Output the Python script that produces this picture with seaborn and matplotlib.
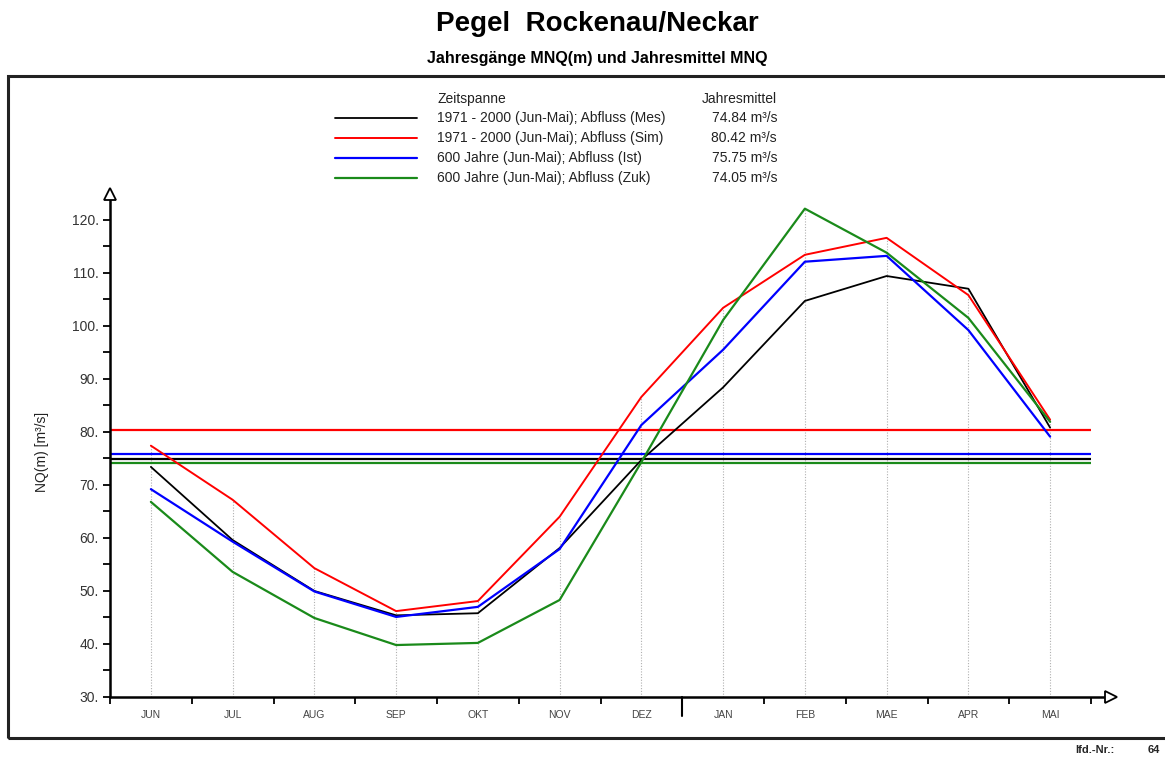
import matplotlib
matplotlib.use("Agg")
import matplotlib.pyplot as plt
from matplotlib.lines import Line2D
from matplotlib.patches import Rectangle
import seaborn as sns
import pandas as pd

# Monthly values (hydrological year Jun-Mai)
months = ["JUN", "JUL", "AUG", "SEP", "OKT", "NOV", "DEZ", "JAN", "FEB", "MAE", "APR", "MAI"]
mes = [73.4, 59.6, 50.0, 45.4, 45.8, 58.1, 74.7, 88.4, 104.7, 109.4, 107.0, 80.8]
sim = [77.4, 67.2, 54.3, 46.2, 48.1, 64.0, 86.6, 103.4, 113.4, 116.6, 105.8, 82.3]
ist = [69.2, 59.3, 49.9, 45.1, 47.0, 57.9, 81.3, 95.5, 112.1, 113.2, 99.2, 79.1]
zuk = [66.8, 53.6, 44.9, 39.8, 40.2, 48.3, 74.3, 101.1, 122.1, 113.8, 101.5, 81.9]

series_labels = ["1971 - 2000 (Jun-Mai); Abfluss (Mes)",
                 "1971 - 2000 (Jun-Mai); Abfluss (Sim)",
                 "600 Jahre (Jun-Mai); Abfluss (Ist)",
                 "600 Jahre (Jun-Mai); Abfluss (Zuk)"]
annual_means = [74.84, 80.42, 75.75, 74.05]
colors = ["#000000", "#ff0000", "#0000ff", "#1a8a1a"]
widths = [1.3, 1.4, 1.6, 1.6]

sns.set_theme(style="white")
plt.rcParams["font.family"] = ["Liberation Sans", "DejaVu Sans"]

W, H = 1165, 758
fig = plt.figure(figsize=(W / 100, H / 100), dpi=100)

def fx(px):
    return px / W

def fy(py):
    return 1 - py / H

ax = fig.add_axes([fx(110), fy(697), fx(1091) - fx(110), fy(188) - fy(697)])

# long table for seaborn
rows = []
for lab, vals in zip(series_labels, [mes, sim, ist, zuk]):
    for i, v in enumerate(vals):
        rows.append({"x": i + 0.5, "y": v, "series": lab})
df = pd.DataFrame(rows)

# dotted month guides from axis up to highest curve
tops = [max(a, b, c, d) for a, b, c, d in zip(mes, sim, ist, zuk)]
ax.vlines([i + 0.5 for i in range(len(months))], 30, tops,
          colors="#b0b0b0", linestyles=(0, (1, 1.5)), linewidth=0.8, zorder=1)

# annual means as horizontal lines
for m, c in zip(annual_means, colors):
    ax.axhline(m, color=c, linewidth=1.6, zorder=2)

for lab, c, lw in zip(series_labels, colors, widths):
    sns.lineplot(data=df[df["series"] == lab], x="x", y="y", color=c,
                 linewidth=lw, ax=ax, legend=False, zorder=3)

ax.set_xlim(0, 12)
ax.set_ylim(30, 126)
for s in ax.spines.values():
    s.set_visible(False)

# axes with arrow heads
ax.plot([0, 12.2], [30, 30], color="black", linewidth=1.8, clip_on=False, zorder=4)
ax.plot([0, 0], [30, 123.8], color="black", linewidth=1.8, clip_on=False, zorder=4)
ax.plot([12.25], [30], marker=">", markersize=8, markerfacecolor="white",
        markeredgecolor="black", markeredgewidth=1.3, clip_on=False, zorder=5)
ax.plot([0], [124.9], marker="^", markersize=8, markerfacecolor="white",
        markeredgecolor="black", markeredgewidth=1.3, clip_on=False, zorder=5)
# longer tick at the calendar year change (between DEZ and JAN)
year_break = months.index("JAN")
ax.plot([year_break, year_break], [30, 26.4], color="black", linewidth=1.5, clip_on=False, zorder=4)

# y ticks
yt = list(range(30, 121, 5))
ax.set_yticks(yt)
ax.set_yticklabels([f"{v}." if v % 10 == 0 else "" for v in yt], fontsize=10, color="#333333")
ax.tick_params(axis="y", direction="out", length=5, width=1.3, color="black", pad=3, left=True)

# x ticks: boundaries as major ticks, month names at centres
ax.set_xticks(range(13))
ax.set_xticklabels([""] * 13)
ax.tick_params(axis="x", which="major", direction="out", length=5, width=1.3, color="black", bottom=True)
ax.set_xticks([i + 0.5 for i in range(12)], minor=True)
ax.set_xticklabels(months, minor=True, fontsize=7.5, color="#444444")
ax.tick_params(axis="x", which="minor", length=0, pad=9)
ax.grid(False)
ax.set_xlabel("")

ax.set_ylabel("NQ(m) [m³/s]", fontsize=10, color="#222222")
ax.yaxis.set_label_coords(-(110 - 49) / (1091 - 110), (697 - 452) / (697 - 188))

# titles
fig.text(0.513, fy(24), "Pegel  Rockenau/Neckar", ha="center", va="center",
         fontsize=20, fontweight="bold", color="black")
fig.text(0.513, fy(58), "Jahresgänge MNQ(m) und Jahresmittel MNQ", ha="center", va="center",
         fontsize=11.5, fontweight="bold", color="black")

# frame around the plot area
fig.add_artist(Rectangle((fx(8), fy(738)), 1.0, fy(76) - fy(738), transform=fig.transFigure,
                         fill=False, edgecolor="#222222", linewidth=2.2))

# custom legend
fig.text(fx(437), fy(99), "Zeitspanne", fontsize=10, va="center", color="#222222")
fig.text(fx(777), fy(99), "Jahresmittel", fontsize=10, va="center", ha="right", color="#222222")
for k, (lab, m, c, lw) in enumerate(zip(series_labels, annual_means, colors, widths)):
    yy = fy(118 + 20 * k)
    fig.add_artist(Line2D([fx(335), fx(417)], [yy, yy], color=c, linewidth=lw,
                          transform=fig.transFigure))
    fig.text(fx(437), yy, lab, fontsize=10, va="center", color="#222222")
    fig.text(fx(777), yy, f"{m:.2f} m³/s", fontsize=10, va="center", ha="right", color="#222222")

fig.text(fx(1075), fy(750), "lfd.-Nr.:", fontsize=8, fontweight="bold", va="center")
fig.text(fx(1160), fy(750), "64", fontsize=8, fontweight="bold", va="center", ha="right")

fig.savefig("out.png", dpi=100)
